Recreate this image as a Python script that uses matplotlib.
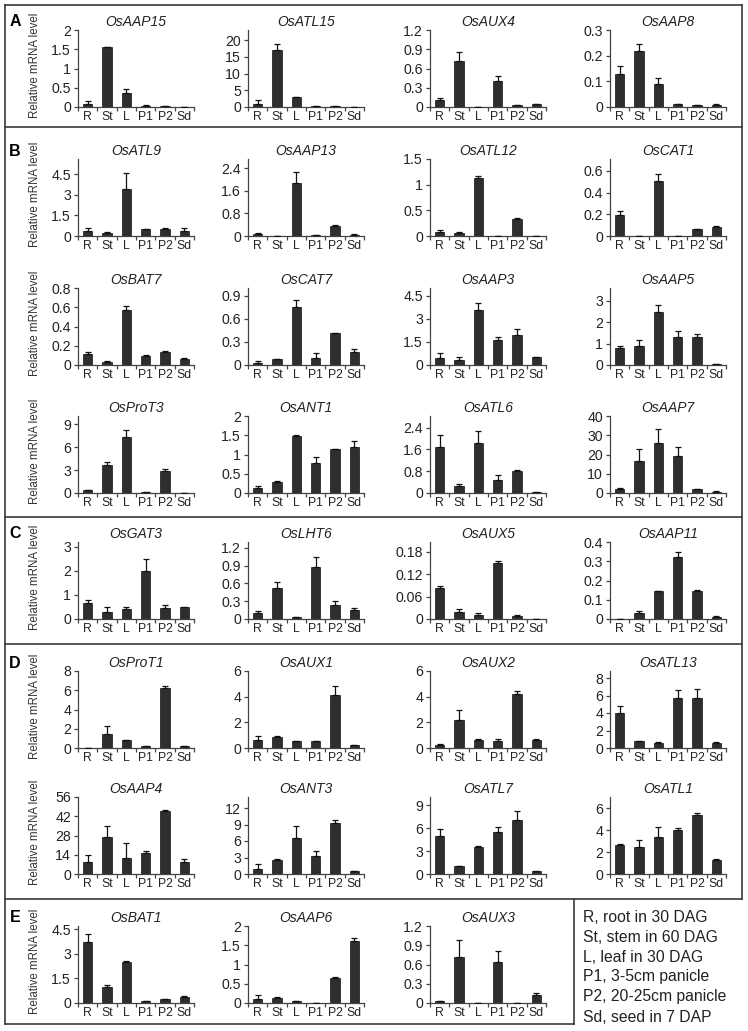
import matplotlib
matplotlib.use("Agg")
import matplotlib.pyplot as plt
from matplotlib.lines import Line2D

plt.rcParams['font.family'] = ['Liberation Sans', 'DejaVu Sans']

W, H = 748, 1031

TISSUES = ["R", "St", "L", "P1", "P2", "Sd"]
LEGEND = ["R, root in 30 DAG", "St, stem in 60 DAG", "L, leaf in 30 DAG",
          "P1, 3-5cm panicle", "P2, 20-25cm panicle", "Sd, seed in 7 DAP"]

# --- A
AAP15 = [0.08, 1.55, 0.37, 0.03, 0.02, 0.01]
AAP15_ERR = [0.07, 0.01, 0.10, 0.01, 0.005, 0.0]
ATL15 = [1.0, 17.0, 3.0, 0.3, 0.2, 0.0]
ATL15_ERR = [1.0, 1.8, 0.0, 0.0, 0.0, 0.0]
AUX4 = [0.11, 0.72, 0.0, 0.41, 0.03, 0.04]
AUX4_ERR = [0.03, 0.14, 0.0, 0.08, 0.0, 0.01]
AAP8 = [0.128, 0.217, 0.088, 0.010, 0.008, 0.009]
AAP8_ERR = [0.03, 0.027, 0.024, 0.002, 0.0, 0.001]
# --- B
ATL9 = [0.35, 0.20, 3.40, 0.48, 0.52, 0.40]
ATL9_ERR = [0.20, 0.12, 1.15, 0.05, 0.06, 0.20]
AAP13 = [0.06, 0.01, 1.88, 0.02, 0.35, 0.05]
AAP13_ERR = [0.04, 0.0, 0.38, 0.0, 0.04, 0.01]
ATL12 = [0.07, 0.05, 1.13, 0.0, 0.34, 0.0]
ATL12_ERR = [0.05, 0.02, 0.04, 0.0, 0.01, 0.0]
CAT1 = [0.19, 0.0, 0.51, 0.0, 0.065, 0.08]
CAT1_ERR = [0.04, 0.0, 0.06, 0.0, 0.0, 0.01]
BAT7 = [0.11, 0.03, 0.57, 0.09, 0.14, 0.06]
BAT7_ERR = [0.03, 0.01, 0.04, 0.015, 0.005, 0.01]
CAT7 = [0.03, 0.08, 0.75, 0.09, 0.41, 0.17]
CAT7_ERR = [0.02, 0.0, 0.10, 0.06, 0.01, 0.04]
AAP3 = [0.45, 0.35, 3.60, 1.60, 1.95, 0.50]
AAP3_ERR = [0.30, 0.15, 0.45, 0.25, 0.40, 0.03]
AAP5 = [0.80, 0.87, 2.50, 1.30, 1.30, 0.07]
AAP5_ERR = [0.08, 0.28, 0.30, 0.30, 0.15, 0.0]
PROT3 = [0.40, 3.65, 7.30, 0.08, 2.95, 0.05]
PROT3_ERR = [0.05, 0.45, 1.00, 0.0, 0.15, 0.0]
ANT1 = [0.14, 0.29, 1.48, 0.78, 1.13, 1.20]
ANT1_ERR = [0.03, 0.01, 0.02, 0.15, 0.0, 0.14]
ATL6 = [1.70, 0.25, 1.82, 0.48, 0.80, 0.05]
ATL6_ERR = [0.42, 0.08, 0.45, 0.17, 0.04, 0.0]
AAP7 = [2.0, 16.5, 26.0, 19.0, 2.0, 0.7]
AAP7_ERR = [0.5, 6.5, 7.5, 4.8, 0.3, 0.3]
# --- C
GAT3 = [0.65, 0.30, 0.40, 2.00, 0.45, 0.48]
GAT3_ERR = [0.15, 0.20, 0.10, 0.48, 0.15, 0.03]
LHT6 = [0.10, 0.53, 0.03, 0.88, 0.24, 0.15]
LHT6_ERR = [0.04, 0.09, 0.0, 0.17, 0.06, 0.04]
AUX5 = [0.083, 0.020, 0.012, 0.150, 0.009, 0.001]
AUX5_ERR = [0.006, 0.008, 0.005, 0.004, 0.001, 0.0]
AAP11 = [0.002, 0.03, 0.145, 0.32, 0.145, 0.012]
AAP11_ERR = [0.0, 0.012, 0.0, 0.03, 0.008, 0.002]
# --- D
PROT1 = [0.05, 1.50, 0.85, 0.22, 6.20, 0.20]
PROT1_ERR = [0.0, 0.80, 0.0, 0.0, 0.25, 0.05]
AUX1 = [0.65, 0.82, 0.52, 0.57, 4.15, 0.22]
AUX1_ERR = [0.32, 0.10, 0.0, 0.0, 0.70, 0.0]
AUX2 = [0.25, 2.20, 0.65, 0.55, 4.20, 0.65]
AUX2_ERR = [0.03, 0.80, 0.05, 0.13, 0.25, 0.03]
ATL13 = [3.95, 0.85, 0.55, 5.70, 5.70, 0.55]
ATL13_ERR = [0.85, 0.0, 0.12, 0.90, 1.05, 0.08]
AAP4 = [9.0, 27.0, 12.0, 15.5, 46.0, 8.5]
AAP4_ERR = [5.0, 8.0, 10.5, 1.5, 0.5, 2.5]
ANT3 = [1.0, 2.5, 6.6, 3.3, 9.2, 0.5]
ANT3_ERR = [0.8, 0.15, 2.2, 0.95, 0.6, 0.1]
ATL7 = [5.0, 1.0, 3.6, 5.5, 7.1, 0.35]
ATL7_ERR = [0.9, 0.0, 0.1, 0.6, 1.2, 0.05]
ATL1 = [2.65, 2.50, 3.40, 4.00, 5.40, 1.30]
ATL1_ERR = [0.05, 0.55, 0.90, 0.20, 0.15, 0.05]
# --- E
BAT1 = [3.70, 1.00, 2.48, 0.12, 0.22, 0.35]
BAT1_ERR = [0.50, 0.12, 0.10, 0.03, 0.02, 0.07]
AAP6 = [0.10, 0.12, 0.05, 0.005, 0.64, 1.60]
AAP6_ERR = [0.10, 0.03, 0.01, 0.0, 0.03, 0.10]
AUX3 = [0.03, 0.71, 0.0, 0.64, 0.005, 0.12]
AUX3_ERR = [0.005, 0.27, 0.0, 0.17, 0.0, 0.03]

# (panel letter, [(gene, values, errors, y ticks, y max), ...])
ROWS = [
    ("A", [("OsAAP15", AAP15, AAP15_ERR, [0, 0.5, 1, 1.5, 2], 2),
           ("OsATL15", ATL15, ATL15_ERR, [0, 5, 10, 15, 20], 23),
           ("OsAUX4", AUX4, AUX4_ERR, [0, 0.3, 0.6, 0.9, 1.2], 1.2),
           ("OsAAP8", AAP8, AAP8_ERR, [0, 0.1, 0.2, 0.3], 0.3)]),
    ("B", [("OsATL9", ATL9, ATL9_ERR, [0, 1.5, 3, 4.5], 5.6),
           ("OsAAP13", AAP13, AAP13_ERR, [0, 0.8, 1.6, 2.4], 2.73),
           ("OsATL12", ATL12, ATL12_ERR, [0, 0.5, 1, 1.5], 1.5),
           ("OsCAT1", CAT1, CAT1_ERR, [0, 0.2, 0.4, 0.6], 0.71)]),
    (None, [("OsBAT7", BAT7, BAT7_ERR, [0, 0.2, 0.4, 0.6, 0.8], 0.8),
            ("OsCAT7", CAT7, CAT7_ERR, [0, 0.3, 0.6, 0.9], 1.0),
            ("OsAAP3", AAP3, AAP3_ERR, [0, 1.5, 3, 4.5], 5.0),
            ("OsAAP5", AAP5, AAP5_ERR, [0, 1, 2, 3], 3.6)]),
    (None, [("OsProT3", PROT3, PROT3_ERR, [0, 3, 6, 9], 10.1),
            ("OsANT1", ANT1, ANT1_ERR, [0, 0.5, 1, 1.5, 2], 2),
            ("OsATL6", ATL6, ATL6_ERR, [0, 0.8, 1.6, 2.4], 2.83),
            ("OsAAP7", AAP7, AAP7_ERR, [0, 10, 20, 30, 40], 40)]),
    ("C", [("OsGAT3", GAT3, GAT3_ERR, [0, 1, 2, 3], 3.2),
           ("OsLHT6", LHT6, LHT6_ERR, [0, 0.3, 0.6, 0.9, 1.2], 1.3),
           ("OsAUX5", AUX5, AUX5_ERR, [0, 0.06, 0.12, 0.18], 0.206),
           ("OsAAP11", AAP11, AAP11_ERR, [0, 0.1, 0.2, 0.3, 0.4], 0.4)]),
    ("D", [("OsProT1", PROT1, PROT1_ERR, [0, 2, 4, 6, 8], 8),
           ("OsAUX1", AUX1, AUX1_ERR, [0, 2, 4, 6], 6),
           ("OsAUX2", AUX2, AUX2_ERR, [0, 2, 4, 6], 6),
           ("OsATL13", ATL13, ATL13_ERR, [0, 2, 4, 6, 8], 8.8)]),
    (None, [("OsAAP4", AAP4, AAP4_ERR, [0, 14, 28, 42, 56], 56),
            ("OsANT3", ANT3, ANT3_ERR, [0, 3, 6, 9, 12], 14),
            ("OsATL7", ATL7, ATL7_ERR, [0, 3, 6, 9], 10.1),
            ("OsATL1", ATL1, ATL1_ERR, [0, 2, 4, 6], 7.0)]),
    ("E", [("OsBAT1", BAT1, BAT1_ERR, [0, 1.5, 3, 4.5], 4.7),
           ("OsAAP6", AAP6, AAP6_ERR, [0, 0.5, 1, 1.5, 2], 2),
           ("OsAUX3", AUX3, AUX3_ERR, [0, 0.3, 0.6, 0.9, 1.2], 1.2)]),
]

# layout in pixels
ROW_ZERO = [107, 236, 365, 493, 619, 748, 874, 1003]
AX_H = 77
COL_X = [78, 248, 430, 610]
AX_W = 116
BAR = "#2e2e2e"
AXC = "#444444"


def fx(px):
    return px / W


def fy(py):
    return 1 - py / H


def fmt(v):
    return f"{v:g}"


def draw_panel(ax, gene, vals, errs, yticks, ymax):
    x = range(len(TISSUES))
    ax.bar(x, vals, width=0.48, color=BAR, edgecolor="#111111", linewidth=0.5, zorder=2)
    ax.errorbar(x, vals, yerr=[[0] * len(errs), errs], fmt="none", ecolor="#111111",
                elinewidth=0.9, capsize=2.4, capthick=0.9, zorder=3)
    ax.set_xlim(-0.5, len(TISSUES) - 0.5)
    ax.set_ylim(0, ymax)
    ax.set_yticks(yticks)
    ax.set_yticklabels([fmt(v) for v in yticks], fontsize=10.2, color="#222222")
    ax.set_xticks(list(x))
    ax.set_xticklabels(TISSUES, fontsize=8.8, color="#222222")
    ax.set_xticks([i - 0.5 for i in range(len(TISSUES) + 1)], minor=True)
    ax.tick_params(axis="x", which="major", length=0, pad=3)
    ax.tick_params(axis="x", which="minor", length=3, direction="out", color=AXC, width=0.9)
    ax.tick_params(axis="y", length=3, direction="out", color=AXC, width=0.9, pad=2)
    for s in ("top", "right"):
        ax.spines[s].set_visible(False)
    for s in ("left", "bottom"):
        ax.spines[s].set_color(AXC)
        ax.spines[s].set_linewidth(0.9)
    ax.set_title(gene, fontsize=10, style="italic", pad=3, color="#222222")


fig = plt.figure(figsize=(W / 100, H / 100), dpi=100)

for r, (letter, panels) in enumerate(ROWS):
    zero = ROW_ZERO[r]
    for c, (gene, vals, errs, yticks, ymax) in enumerate(panels):
        ax = fig.add_axes([fx(COL_X[c]), fy(zero), fx(AX_W), AX_H / H])
        draw_panel(ax, gene, vals, errs, yticks, ymax)
    fig.text(fx(35), fy(zero - AX_H / 2 - 3), "Relative mRNA level", rotation=90,
             fontsize=8.3, color="#333333", ha="center", va="center")
    if letter:
        fig.text(fx(15), fy(zero - AX_H - 8), letter, fontsize=11.5, fontweight="bold",
                 ha="center", va="center")

# panel frames
FRAME = dict(color="#3a3a3a", linewidth=1.2, transform=fig.transFigure)
segments = [
    ((5, 742), (5, 5)),        # top
    ((5, 5), (5, 1024)),       # left
    ((742, 742), (5, 899)),    # right
    ((5, 742), (127, 127)),
    ((5, 742), (517, 517)),
    ((5, 742), (644, 644)),
    ((5, 742), (899, 899)),
    ((5, 574), (1024, 1024)),  # bottom of E
    ((574, 574), (899, 1024)), # right of E
]
for xs, ys in segments:
    fig.add_artist(Line2D([fx(v) for v in xs], [fy(v) for v in ys], **FRAME))

for i, line in enumerate(LEGEND):
    fig.text(fx(583), fy(917 + 20 * i), line, fontsize=11.3, ha="left", va="center",
             color="#222222")

fig.savefig("out.png", dpi=100)
